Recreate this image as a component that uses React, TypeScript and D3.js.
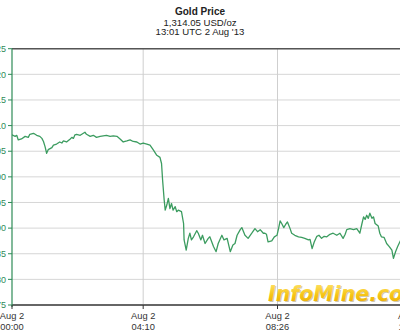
import React from "react";
import * as d3 from "d3";

const title = "Gold Price";
const subtitle1 = "1,314.05 USD/oz";
const subtitle2 = "13:01 UTC 2 Aug '13";
const watermark = "InfoMine.com";

// minutes since 00:00 on Aug 2
const times = [
  0, 6, 9, 12, 18, 25, 31, 34, 41, 47,
  53, 57, 60, 63, 66, 69, 76, 79, 85, 91,
  95, 98, 104, 111, 114, 117, 120, 123, 130, 136,
  139, 142, 149, 155, 161, 168, 174, 180, 187, 193,
  200, 206, 212, 219, 225, 231, 238, 244, 250, 257,
  263, 269, 276, 282, 285, 287, 290, 292, 295, 298,
  301, 304, 307, 311, 314, 317, 323, 327, 328, 332,
  336, 339, 342, 346, 352, 355, 360, 363, 368, 374,
  377, 384, 389, 393, 400, 404, 410, 416, 421, 425,
  429, 435, 438, 444, 450, 457, 463, 468, 473, 479,
  482, 485, 488, 495, 500, 505, 508, 511, 514, 518,
  522, 525, 530, 533, 539, 546, 552, 558, 565, 568,
  572, 576, 581, 585, 590, 595, 600, 606, 612, 619,
  625, 631, 635, 638, 644, 651, 657, 663, 667, 670,
  673, 676, 679, 682, 686, 689, 692, 698, 701, 704,
  709, 714, 719, 724, 727, 731, 735, 740, 745,
];

const prices = [
  1308.2, 1307.9, 1308.1, 1307.2, 1307.4, 1307.9, 1307.7, 1308.3, 1308.5, 1308.1,
  1307.9, 1307.5, 1306.9, 1305.9, 1304.6, 1305.3, 1305.7, 1306.2, 1306.4, 1306.8,
  1306.6, 1307.0, 1306.8, 1307.4, 1307.7, 1307.5, 1308.2, 1308.3, 1308.1, 1308.5,
  1308.7, 1308.3, 1307.9, 1308.1, 1307.7, 1307.9, 1308.0, 1308.1, 1307.9, 1308.0,
  1307.9, 1307.4, 1306.8, 1307.0, 1307.2, 1306.9, 1306.8, 1306.4, 1306.6, 1306.4,
  1306.2, 1305.3, 1304.2, 1303.8, 1302.6, 1299.4, 1295.5, 1293.5, 1294.5, 1295.8,
  1293.8, 1294.8, 1293.5, 1294.2, 1293.2, 1293.5, 1293.2, 1290.9, 1287.7, 1285.7,
  1288.0, 1289.0, 1287.7, 1288.3, 1289.5, 1289.0, 1287.7, 1288.6, 1287.0, 1288.0,
  1288.3, 1286.4, 1285.4, 1287.0, 1288.6, 1287.7, 1288.0, 1285.4, 1286.7, 1287.0,
  1288.6, 1289.7, 1290.1, 1288.6, 1288.0, 1289.0, 1289.9, 1289.3, 1289.7, 1289.0,
  1289.0, 1288.8, 1287.3, 1287.5, 1288.3, 1288.6, 1289.9, 1291.4, 1290.9, 1290.1,
  1290.8, 1291.2, 1289.9, 1289.0, 1288.6, 1288.3, 1288.2, 1288.0, 1287.7, 1287.8,
  1286.0, 1287.3, 1288.4, 1288.6, 1288.0, 1288.4, 1288.3, 1288.8, 1289.0, 1288.6,
  1289.0, 1288.0, 1288.8, 1289.7, 1289.9, 1289.7, 1289.9, 1289.0, 1290.9, 1292.2,
  1291.7, 1292.5, 1291.9, 1292.9, 1291.9, 1292.2, 1290.9, 1290.4, 1289.0, 1288.3,
  1288.2, 1287.0, 1286.4, 1285.7, 1284.1, 1285.4, 1286.4, 1287.5, 1288.0,
];

const yTicks = [1275, 1280, 1285, 1290, 1295, 1300, 1305, 1310, 1315, 1320, 1325];
const xTickTimes = [0, 250, 506, 759];
const xTickDates = ["Aug 2", "Aug 2", "Aug 2", "Aug 2"];
const xTickLabels = ["00:00", "04:10", "08:26", "12:39"];

const W = 400;
const H = 333;
const left = 12;
const right = 440;
const top = 48.7;
const bottom = 305;

export default function App() {
  const x = d3.scaleLinear().domain([0, 506]).range([left, 277.5]);
  const y = d3.scaleLinear().domain([1275, 1325]).range([bottom, top]);
  const pts = times.map((t, i) => [t, prices[i]] as [number, number]);
  const line = d3
    .line<[number, number]>()
    .x((d) => x(d[0]))
    .y((d) => y(d[1]));
  const fmt = d3.format(",");
  const font = "'Liberation Sans', Arial, sans-serif";

  return (
    <svg
      width={W}
      height={H}
      style={{ position: "absolute", left: 0, top: 0, background: "#fff" }}
      fontFamily={font}
    >
      <defs>
        <linearGradient id="wm" x1="0" y1="0" x2="0" y2="1">
          <stop offset="0%" stopColor="#ffe470" />
          <stop offset="55%" stopColor="#f6c414" />
          <stop offset="100%" stopColor="#e8a605" />
        </linearGradient>
        <clipPath id="plot">
          <rect x={left} y={top} width={right - left} height={bottom - top} />
        </clipPath>
      </defs>
      <rect x={0} y={0} width={W} height={H} fill="#fff" />

      {/* titles */}
      <text x={200} y={15} textAnchor="middle" fontSize={10} fontWeight="bold" fill="#222">
        {title}
      </text>
      <text x={200} y={25.5} textAnchor="middle" fontSize={9.6} fill="#222">
        {subtitle1}
      </text>
      <text x={200} y={35} textAnchor="middle" fontSize={9.6} fill="#222">
        {subtitle2}
      </text>

      {/* horizontal grid */}
      {yTicks.map((v) => (
        <line
          key={"g" + v}
          x1={left}
          x2={right}
          y1={y(v)}
          y2={y(v)}
          stroke="#d6d6d6"
          strokeWidth={1}
        />
      ))}
      {/* vertical grid */}
      {xTickTimes.slice(1).map((t) => (
        <line
          key={"v" + t}
          x1={x(t)}
          x2={x(t)}
          y1={top}
          y2={bottom}
          stroke="#cfcfcf"
          strokeWidth={1}
        />
      ))}

      {/* watermark */}
      <text
        x={269}
        y={302}
        fontFamily="'DejaVu Sans', sans-serif"
        fontWeight="bold"
        fontStyle="italic"
        fontSize={20.5}
        fill="#9a8a50"
        opacity={0.45}
      >
        {watermark}
      </text>
      <text
        x={268}
        y={301}
        fontFamily="'DejaVu Sans', sans-serif"
        fontWeight="bold"
        fontStyle="italic"
        fontSize={20.5}
        fill="url(#wm)"
      >
        {watermark}
      </text>

      {/* top and bottom borders */}
      <line x1={left} x2={right} y1={top} y2={top} stroke="#555" strokeWidth={1.5} />
      <line x1={left} x2={right} y1={bottom} y2={bottom} stroke="#666" strokeWidth={1.8} />

      {/* data line */}
      <path
        d={line(pts) || ""}
        fill="none"
        stroke="#3c9c60"
        strokeWidth={1.3}
        strokeLinejoin="round"
        clipPath="url(#plot)"
      />

      {/* y axis */}
      <line x1={left} x2={left} y1={top} y2={bottom + 2} stroke="#2e8b57" strokeWidth={1.2} />
      {yTicks.map((v) => (
        <g key={"t" + v}>
          <line x1={left - 4} x2={left} y1={y(v)} y2={y(v)} stroke="#2e8b57" strokeWidth={1} />
          <text
            x={left - 6}
            y={y(v) + 3.2}
            textAnchor="end"
            fontSize={9}
            fill="#2e8b57"
          >
            {fmt(v)}
          </text>
        </g>
      ))}

      {/* x axis ticks */}
      {xTickTimes.map((t, i) => (
        <g key={"x" + t}>
          <line x1={x(t)} x2={x(t)} y1={bottom} y2={bottom + 4} stroke="#333" strokeWidth={1} />
          <text x={x(t)} y={318.5} textAnchor="middle" fontSize={9.3} fill="#333">
            {xTickDates[i]}
          </text>
          <text x={x(t)} y={329.5} textAnchor="middle" fontSize={9.3} fill="#333">
            {xTickLabels[i]}
          </text>
        </g>
      ))}
    </svg>
  );
}
